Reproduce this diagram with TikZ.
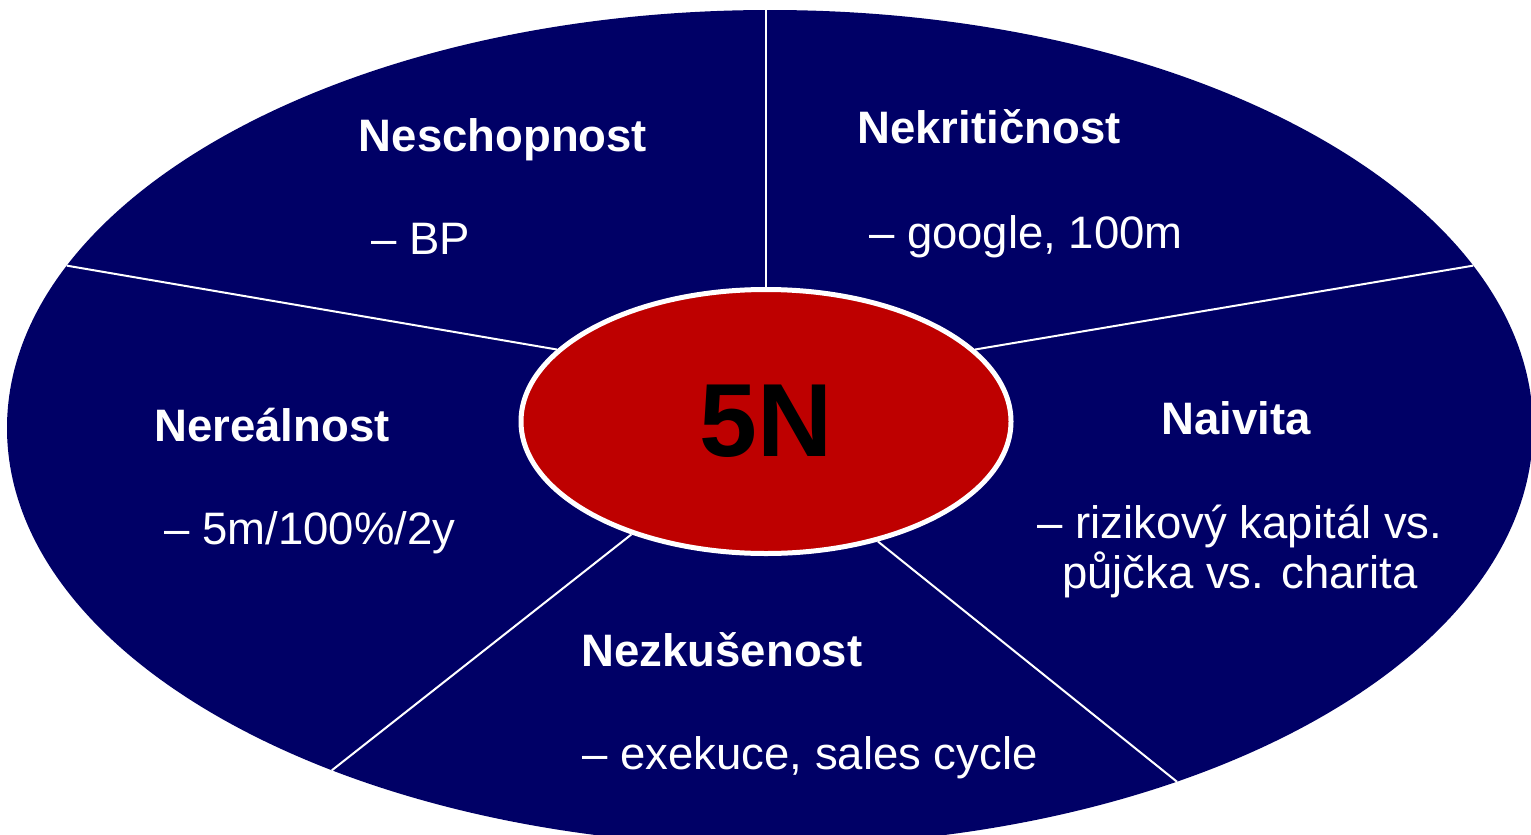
\documentclass[tikz,border=0pt]{standalone}
\usepackage{fontspec}
\setmainfont{Liberation Sans}
\usepackage{tikz}
\usetikzlibrary{shapes.geometric}
\definecolor{navyfill}{RGB}{0,0,102}
\definecolor{hubred}{RGB}{190,0,0}

\begin{document}
\begin{tikzpicture}[x=1pt, y=-1pt,
        rimnode/.style={ellipse, fill=navyfill, minimum width=1526pt, minimum height=836pt, inner sep=0pt},
        hubnode/.style={ellipse, fill=hubred, draw=white, line width=5pt, minimum width=490pt, minimum height=264pt, inner sep=0pt, text=black, font=\fontsize{104}{110}\selectfont\bfseries},
        headnode/.style={anchor=base, text=white, inner sep=0pt, font=\fontsize{45.5}{50}\selectfont\bfseries},
        notenode/.style={anchor=base, text=white, inner sep=0pt, align=center, font=\fontsize{45.5}{50}\selectfont},
        divider/.style={draw=white, line width=2pt},
]
        \clip (0,0) rectangle (1531,835);
        \node[rimnode] (rim) at (770,428) {};
        \node[hubnode] (hub) at (766,421.5) {5N};

        \draw[divider] (hub.north) -- (hub.north |- rim.north);
        \draw[divider] (hub.161) -- (rim.167.1);
        \draw[divider] (hub.19.8) -- (rim.13.4);
        \draw[divider] (hub.220.4) -- (rim.218.5);
        \draw[divider] (hub.313) -- (rim.319.2);

        \node[headnode] (neschopnost) at (503,151) {Neschopnost};
        \node[notenode] (neschopnostnote) at (421,254) {– BP};
        \node[headnode] (nekriticnost) at (989,143) {Nekritičnost};
        \node[notenode] (nekriticnostnote) at (1026,248) {– google, 100m};
        \node[headnode] (nerealnost) at (272,441) {Nereálnost};
        \node[notenode] (nerealnostnote) at (310,544) {– 5m/100\%/2y};
        \node[headnode] (naivita) at (1236,434) {Naivita};
        \node[notenode] (naivitanote) at (1240,588) {– rizikový kapitál vs.\\ půjčka vs. charita};
        \node[headnode] (nezkusenost) at (722,666) {Nezkušenost};
        \node[notenode] (nezkusenostnote) at (810,769) {– exekuce, sales cycle};
\end{tikzpicture}
\end{document}
